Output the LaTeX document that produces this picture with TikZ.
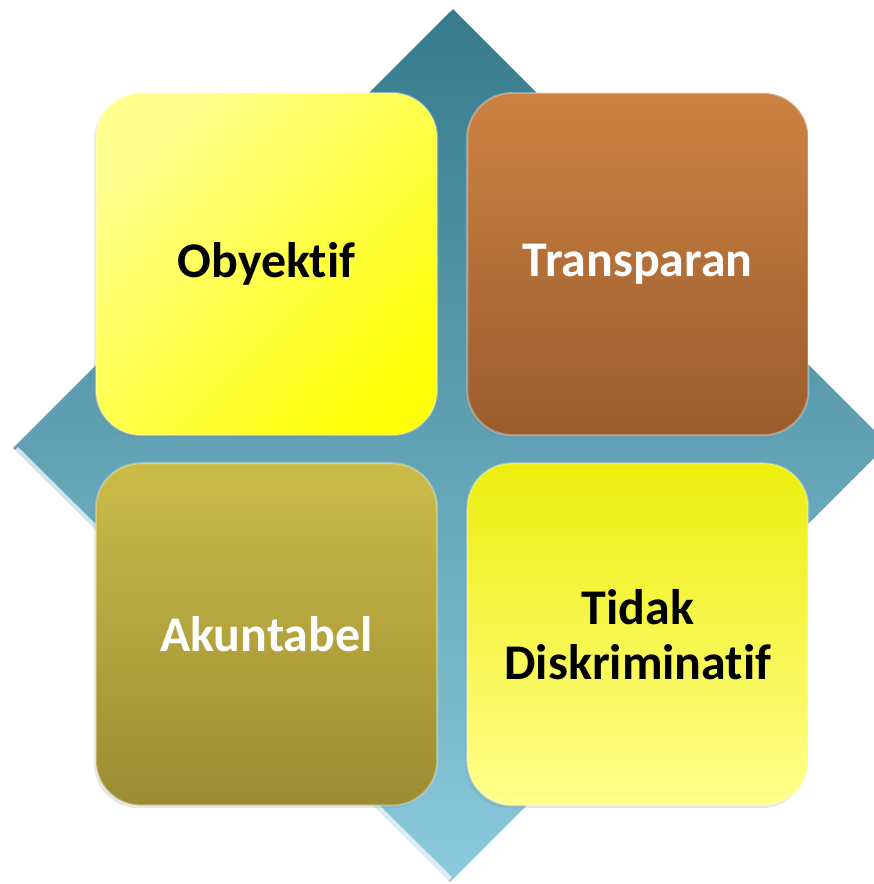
\documentclass[tikz,border=0pt]{standalone}
\usepackage{fontspec}
\setsansfont{Carlito}[Ligatures=NoCommon]
\usepackage{xcolor}
\definecolor{colorDiamondTop}{HTML}{367A8B}
\definecolor{colorDiamondMid}{HTML}{46A3BF}
\definecolor{colorDiamondBottom}{HTML}{8BCADC}
\definecolor{colorObyektifA}{HTML}{FFFF8E}
\definecolor{colorObyektifB}{HTML}{FFFF0A}
\definecolor{colorTransparanA}{HTML}{CC8243}
\definecolor{colorTransparanB}{HTML}{9B5C2D}
\definecolor{colorAkuntabelA}{HTML}{CBBC49}
\definecolor{colorAkuntabelB}{HTML}{9C8C32}
\definecolor{colorDiskriminatifA}{HTML}{EDEE0E}
\definecolor{colorDiskriminatifB}{HTML}{FFFF8C}
\usetikzlibrary{positioning, shadows}
\tikzset{box/.style={rectangle, rounded corners=0.45cm, minimum width=3.41cm, minimum height=3.42cm,
    align=center, font=\sffamily\bfseries\fontsize{14.2}{15.6}\selectfont,
    draw=white, draw opacity=0.3, line width=0.6pt,
    drop shadow={shadow xshift=-0.6pt, shadow yshift=-0.8pt, opacity=0.2}}}

\begin{document}
\begin{tikzpicture}[x=0.01cm, y=-0.01cm]
\useasboundingbox (0,0) rectangle (874,884);
% the diamond behind the boxes
\begin{scope}
\clip (0,0) rectangle (874,884);
\coordinate (dTop) at (453,9);
\coordinate (dRight) at (888,444);
\coordinate (dBottom) at (450,882);
\coordinate (dLeft) at (13,448);
\shade[top color=colorDiamondTop, middle color=colorDiamondMid, bottom color=colorDiamondBottom]
  (dTop) -- (dRight) -- (dBottom) -- (dLeft) -- cycle;
\draw[white, opacity=0.7, line width=1.6pt] ([shift={(3,1)}]dLeft) -- ([shift={(0,-3)}]dBottom);
\end{scope}
% the four boxes
\node[box, top color=colorObyektifA, bottom color=colorObyektifB, shading angle=45] (obj) at (266.5,264) {Obyektif};
\node[box, top color=colorTransparanA, bottom color=colorTransparanB, text=white, right=0.28cm of obj] (tra) {Transparan};
\node[box, top color=colorAkuntabelA, bottom color=colorAkuntabelB, text=white, below=0.26cm of obj] (akn) {Akuntabel};
\node[box, top color=colorDiskriminatifA, bottom color=colorDiskriminatifB, right=0.28cm of akn] (dis) {Tidak\\Diskriminatif};
\end{tikzpicture}
\end{document}
